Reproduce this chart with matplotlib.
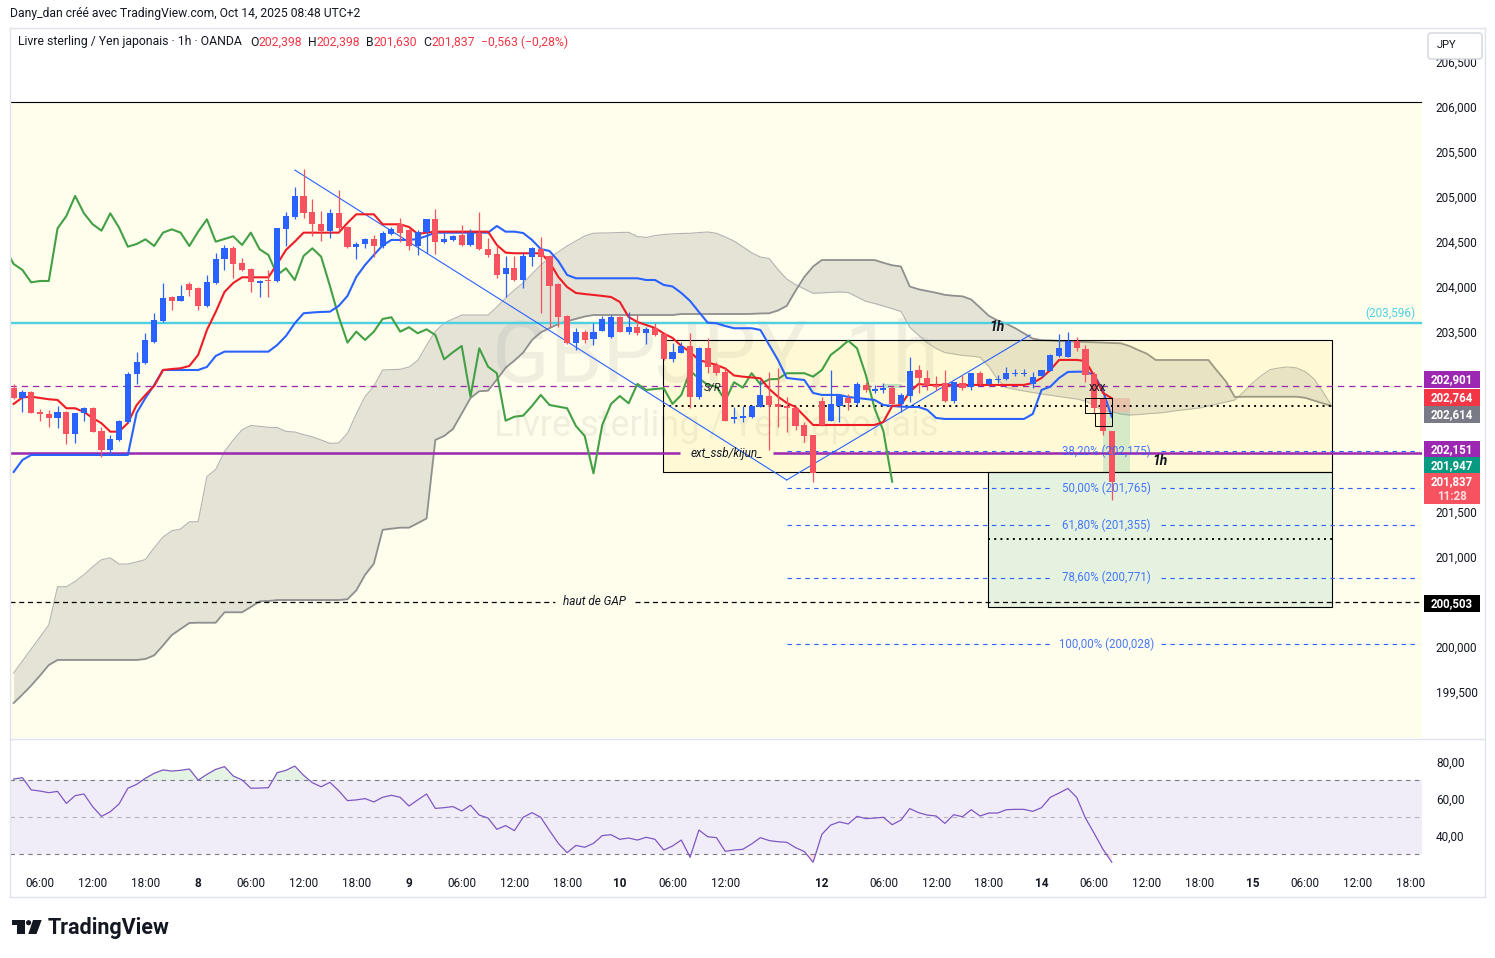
import numpy as np
import matplotlib
matplotlib.use("Agg")
import matplotlib.pyplot as plt
from matplotlib.patches import Rectangle, Circle, Polygon, FancyBboxPatch
from matplotlib.lines import Line2D
from matplotlib.ticker import FuncFormatter
from matplotlib.transforms import IdentityTransform

plt.rcParams['font.family'] = ['Roboto', 'DejaVu Sans']

W, H = 1495, 958

# ---------------- données ----------------
# barre 0 = 7 oct 06:00, une barre = 1h (week-end sauté)
first_bar = -3

opens = [202.875, 202.771, 202.831, 202.612, 202.589, 202.548, 202.612, 202.367, 202.597, 202.656,
         202.397, 202.189, 202.301, 202.504, 203.030, 203.159, 203.393, 203.623, 203.889, 203.848,
         204.034, 203.989, 203.789, 204.048, 204.308, 204.430, 204.264, 204.200, 204.048, 204.078,
         204.070, 204.645, 204.782, 205.012, 204.830, 204.701, 204.626, 204.819, 204.671, 204.448,
         204.475, 204.530, 204.456, 204.589, 204.697, 204.634, 204.456, 204.615, 204.752, 204.504,
         204.523, 204.578, 204.467, 204.604, 204.419, 204.364, 204.141, 204.208, 204.078, 204.337,
         204.423, 204.345, 204.034, 203.678, 203.375, 203.504, 203.423, 203.515, 203.442, 203.664,
         203.504, 203.553, 203.486, 203.541, 203.475, 203.201, 203.271, 203.345, 202.782, 203.319,
         203.134, 203.059, 202.530, 202.548, 202.559, 202.671, 202.789, 202.701, 202.678, 202.660,
         202.467, 202.356, 202.734, 202.515, 202.678, 202.771, 202.708, 202.912, 202.848, 202.856,
         202.875, 202.701, 202.789, 203.078, 202.986, 202.912, 202.937, 202.737, 202.937, 202.893,
         203.042, 202.919, 202.967, 202.975, 203.034, 203.034, 202.923, 203.015, 203.071, 203.234,
         203.226, 203.404, 203.308, 203.034, 202.756, 202.398]
highs = [202.923, 202.856, 202.845, 202.642, 202.634, 202.682, 202.623, 202.601, 202.671, 202.667,
         202.448, 202.356, 202.523, 203.059, 203.275, 203.489, 203.708, 204.042, 203.900, 204.023,
         204.056, 204.000, 204.134, 204.381, 204.467, 204.456, 204.319, 204.212, 204.078, 204.189,
         204.656, 204.830, 205.108, 205.308, 204.975, 204.845, 204.867, 205.078, 204.678, 204.504,
         204.548, 204.578, 204.626, 204.671, 204.763, 204.645, 204.634, 204.752, 204.863, 204.604,
         204.578, 204.689, 204.641, 204.830, 204.541, 204.456, 204.345, 204.345, 204.375, 204.448,
         204.553, 204.356, 204.045, 203.689, 203.541, 203.523, 203.597, 203.678, 203.689, 203.678,
         203.726, 203.689, 203.560, 203.597, 203.489, 203.375, 203.393, 203.486, 203.337, 203.430,
         203.171, 203.097, 202.671, 202.678, 202.689, 202.967, 203.059, 203.097, 202.782, 202.667,
         202.504, 202.356, 202.782, 203.078, 202.801, 202.812, 202.948, 202.948, 202.912, 202.930,
         202.901, 202.819, 203.226, 203.134, 203.078, 203.012, 203.078, 202.948, 203.023, 203.048,
         203.071, 202.986, 203.023, 203.108, 203.086, 203.086, 203.059, 203.078, 203.253, 203.478,
         203.500, 203.449, 203.356, 203.059, 202.782, 202.398]
lows = [202.760, 202.615, 202.601, 202.515, 202.448, 202.437, 202.260, 202.267, 202.515, 202.389,
        202.115, 202.134, 202.289, 202.489, 202.919, 203.145, 203.378, 203.612, 203.745, 203.840,
        203.904, 203.745, 203.775, 204.034, 204.189, 204.097, 204.178, 203.948, 203.892, 203.892,
        204.056, 204.456, 204.756, 204.771, 204.570, 204.515, 204.541, 204.626, 204.439, 204.308,
        204.430, 204.337, 204.430, 204.578, 204.504, 204.412, 204.356, 204.375, 204.367, 204.489,
        204.512, 204.456, 204.456, 204.412, 204.337, 204.097, 203.892, 204.067, 203.986, 204.234,
        203.715, 203.560, 203.560, 203.367, 203.300, 203.375, 203.356, 203.512, 203.434, 203.500,
        203.478, 203.467, 203.364, 203.456, 203.189, 203.171, 203.267, 202.653, 202.753, 203.042,
        203.023, 202.512, 202.486, 202.504, 202.541, 202.667, 202.189, 202.448, 202.393, 202.412,
        202.282, 201.837, 202.456, 202.512, 202.504, 202.634, 202.689, 202.834, 202.819, 202.819,
        202.689, 202.615, 202.726, 202.819, 202.856, 202.856, 202.726, 202.708, 202.856, 202.856,
        202.912, 202.912, 202.930, 202.967, 203.012, 203.012, 202.875, 203.004, 203.067, 203.226,
        203.223, 203.293, 202.948, 202.597, 202.356, 201.630]
closes = [202.771, 202.831, 202.604, 202.586, 202.548, 202.608, 202.367, 202.597, 202.656, 202.393,
          202.189, 202.308, 202.512, 203.030, 203.167, 203.412, 203.634, 203.878, 203.848, 203.900,
          203.971, 203.789, 204.052, 204.312, 204.430, 204.256, 204.189, 204.052, 204.067, 204.067,
          204.652, 204.789, 205.012, 204.819, 204.697, 204.626, 204.819, 204.660, 204.448, 204.478,
          204.530, 204.456, 204.604, 204.641, 204.604, 204.456, 204.615, 204.752, 204.504, 204.534,
          204.564, 204.467, 204.604, 204.419, 204.356, 204.134, 204.208, 204.078, 204.345, 204.430,
          204.337, 204.012, 203.670, 203.382, 203.504, 203.412, 203.504, 203.645, 203.664, 203.504,
          203.553, 203.486, 203.530, 203.467, 203.197, 203.275, 203.345, 202.782, 203.319, 203.115,
          203.042, 202.515, 202.559, 202.571, 202.678, 202.801, 202.689, 202.671, 202.653, 202.456,
          202.345, 201.930, 202.467, 202.701, 202.789, 202.708, 202.923, 202.856, 202.867, 202.875,
          202.701, 202.801, 203.067, 202.986, 202.912, 202.893, 202.737, 202.942, 202.882, 203.042,
          202.919, 202.975, 202.978, 203.042, 203.042, 203.042, 203.004, 203.078, 203.245, 203.319,
          203.404, 203.319, 203.023, 202.653, 202.400, 201.837]

tenkan = [202.701, 202.773, 202.782, 202.767, 202.753, 202.745, 202.653, 202.653, 202.612, 202.545,
          202.486, 202.393, 202.393, 202.489, 202.689, 202.801, 202.901, 203.078, 203.089, 203.097,
          203.123, 203.245, 203.523, 203.723, 203.945, 204.045, 204.108, 204.108, 204.108, 204.108,
          204.256, 204.412, 204.504, 204.604, 204.604, 204.604, 204.604, 204.604, 204.712, 204.808,
          204.808, 204.808, 204.697, 204.697, 204.697, 204.667, 204.589, 204.604, 204.615, 204.615,
          204.615, 204.615, 204.615, 204.615, 204.615, 204.467, 204.382, 204.375, 204.375, 204.375,
          204.375, 204.278, 204.112, 204.000, 203.934, 203.922, 203.912, 203.901, 203.889, 203.834,
          203.667, 203.612, 203.578, 203.545, 203.484, 203.434, 203.345, 203.278, 203.189, 203.162,
          203.134, 203.095, 203.017, 203.004, 202.995, 202.986, 202.867, 202.782, 202.712, 202.667,
          202.567, 202.467, 202.467, 202.467, 202.467, 202.467, 202.467, 202.467, 202.467, 202.501,
          202.678, 202.689, 202.834, 202.923, 202.912, 202.912, 202.912, 202.912, 202.912, 202.912,
          202.912, 202.912, 202.912, 202.912, 202.912, 202.912, 202.934, 202.989, 203.078, 203.190,
          203.190, 203.190, 203.178, 203.012, 202.823, 202.764]
kijun = [201.945, 202.078, 202.134, 202.134, 202.134, 202.134, 202.134, 202.134, 202.134, 202.134,
         202.134, 202.134, 202.134, 202.134, 202.601, 202.767, 202.912, 203.078, 203.078, 203.078,
         203.078, 203.078, 203.112, 203.234, 203.282, 203.282, 203.282, 203.282, 203.282, 203.282,
         203.356, 203.456, 203.597, 203.708, 203.717, 203.723, 203.726, 203.790, 203.901, 204.112,
         204.245, 204.356, 204.462, 204.523, 204.523, 204.523, 204.534, 204.567, 204.604, 204.604,
         204.604, 204.604, 204.604, 204.604, 204.604, 204.678, 204.615, 204.615, 204.600, 204.523,
         204.422, 204.400, 204.289, 204.134, 204.097, 204.097, 204.097, 204.097, 204.097, 204.097,
         204.097, 204.097, 204.078, 204.078, 204.023, 204.006, 203.934, 203.845, 203.723, 203.604,
         203.597, 203.567, 203.542, 203.542, 203.542, 203.523, 203.356, 203.189, 202.989, 202.978,
         202.967, 202.823, 202.801, 202.801, 202.801, 202.778, 202.767, 202.756, 202.745, 202.689,
         202.678, 202.671, 202.667, 202.667, 202.634, 202.545, 202.534, 202.534, 202.534, 202.534,
         202.534, 202.534, 202.534, 202.534, 202.534, 202.534, 202.589, 202.856, 202.893, 202.989,
         203.056, 203.059, 203.059, 203.023, 202.845, 202.556]
# nuage, déjà décalé de 25 barres vers la droite (barres -3 .. 147)
senkou_a = [199.711, 199.845, 199.978, 200.115, 200.245, 200.670, 200.670, 200.729, 200.803, 200.892,
            200.970, 200.991, 200.922, 200.922, 200.945, 200.972, 201.103, 201.222, 201.292, 201.311,
            201.392, 201.392, 201.895, 201.972, 202.172, 202.300, 202.413, 202.462, 202.452, 202.441,
            202.439, 202.396, 202.389, 202.360, 202.335, 202.300, 202.263, 202.267, 202.375, 202.589,
            202.783, 202.898, 203.078, 203.082, 203.086, 203.111, 203.185, 203.352, 203.507, 203.600,
            203.645, 203.689, 203.689, 203.689, 203.689, 203.778, 203.878, 203.967, 204.045, 204.145,
            204.245, 204.322, 204.389, 204.456, 204.511, 204.567, 204.598, 204.600, 204.602, 204.606,
            204.608, 204.561, 204.550, 204.572, 204.583, 204.591, 204.595, 204.597, 204.605, 204.611,
            204.597, 204.556, 204.511, 204.447, 204.380, 204.333, 204.317, 204.195, 204.089, 204.026,
            203.978, 203.930, 203.935, 203.939, 203.945, 203.938, 203.889, 203.841, 203.817, 203.789,
            203.759, 203.729, 203.553, 203.465, 203.378, 203.317, 203.272, 203.256, 203.240, 203.233,
            203.219, 203.117, 202.972, 202.882, 202.862, 202.845, 202.829, 202.811, 202.798, 202.783,
            202.769, 202.756, 202.733, 202.683, 202.628, 202.614, 202.589, 202.578, 202.583, 202.592,
            202.598, 202.607, 202.622, 202.633, 202.645, 202.656, 202.678, 202.700, 202.722, 202.745,
            202.833, 202.933, 203.013, 203.082, 203.100, 203.112, 203.102, 203.061, 202.981, 202.841,
            202.683]
senkou_b = [199.378, 199.472, 199.572, 199.683, 199.800, 199.856, 199.856, 199.856, 199.856, 199.856,
            199.856, 199.856, 199.856, 199.856, 199.856, 199.867, 199.908, 200.017, 200.133, 200.200,
            200.267, 200.270, 200.270, 200.270, 200.386, 200.386, 200.386, 200.445, 200.508, 200.511,
            200.522, 200.522, 200.522, 200.522, 200.522, 200.522, 200.522, 200.522, 200.531, 200.629,
            200.802, 200.926, 201.302, 201.315, 201.326, 201.326, 201.376, 201.428, 202.301, 202.345,
            202.422, 202.593, 202.767, 202.842, 202.848, 202.972, 203.102, 203.183, 203.271, 203.411,
            203.496, 203.543, 203.590, 203.620, 203.646, 203.672, 203.689, 203.689, 203.689, 203.689,
            203.689, 203.689, 203.689, 203.689, 203.689, 203.689, 203.700, 203.700, 203.700, 203.700,
            203.700, 203.700, 203.700, 203.700, 203.702, 203.706, 203.708, 203.739, 203.791, 203.958,
            204.112, 204.228, 204.300, 204.300, 204.300, 204.300, 204.300, 204.300, 204.300, 204.269,
            204.242, 204.228, 204.006, 203.975, 203.956, 203.936, 203.913, 203.903, 203.897, 203.861,
            203.772, 203.680, 203.628, 203.592, 203.543, 203.485, 203.427, 203.409, 203.406, 203.400,
            203.397, 203.393, 203.389, 203.386, 203.382, 203.378, 203.375, 203.345, 203.300, 203.259,
            203.189, 203.189, 203.189, 203.189, 203.189, 203.189, 203.189, 203.067, 202.950, 202.778,
            202.781, 202.781, 202.781, 202.781, 202.781, 202.781, 202.781, 202.769, 202.739, 202.709,
            202.678]
chikou_shift = 25

rsi = [70.7, 71.4, 64.8, 64.2, 63.3, 64.0, 57.5, 61.7, 62.6, 55.7,
       50.5, 53.0, 57.2, 65.7, 67.8, 71.1, 73.8, 75.6, 75.0, 75.4,
       76.1, 70.1, 73.2, 75.9, 77.4, 72.3, 70.2, 65.7, 65.8, 66.0,
       74.1, 75.4, 77.7, 72.7, 68.7, 66.5, 68.9, 64.4, 59.0, 59.4,
       60.1, 58.3, 60.8, 61.9, 60.8, 56.1, 59.4, 62.6, 54.8, 55.2,
       55.8, 53.4, 56.5, 51.2, 49.6, 43.5, 45.5, 42.8, 50.0, 52.5,
       50.0, 42.8, 35.9, 30.9, 34.8, 33.8, 35.9, 40.1, 40.6, 38.1,
       38.8, 37.7, 39.2, 38.1, 32.3, 34.5, 37.7, 28.4, 43.1, 39.5,
       39.0, 31.6, 32.3, 32.7, 35.6, 39.0, 37.4, 36.8, 36.5, 33.6,
       31.5, 25.7, 40.8, 45.8, 47.5, 46.4, 50.5, 49.3, 49.6, 50.0,
       46.0, 48.5, 54.7, 52.5, 51.2, 50.7, 46.7, 51.4, 50.3, 54.1,
       50.7, 52.3, 52.3, 54.1, 54.3, 54.3, 53.2, 55.2, 60.8, 63.1,
       65.6, 60.8, 49.6, 41.3, 32.7, 25.7]

time_ticks = [0, 6, 12, 18, 24, 30, 36, 42, 48, 54, 60, 66, 72, 78, 89,
              96, 102, 108, 114, 120, 126, 132, 138, 144, 150, 156]
time_labels = ['06:00', '12:00', '18:00', '8', '06:00', '12:00', '18:00', '9', '06:00', '12:00',
               '18:00', '10', '06:00', '12:00', '12', '06:00', '12:00', '18:00', '14', '06:00',
               '12:00', '18:00', '15', '06:00', '12:00', '18:00']
price_ticks = [199.5, 200.0, 200.5, 201.0, 201.5, 202.0, 202.5, 203.0, 203.5,
               204.0, 204.5, 205.0, 205.5, 206.0, 206.5]
rsi_ticks = [40, 60, 80]

# dessins de l'utilisateur
level_top = 206.056
level_cyan = 203.596
level_purple_dash = 202.901
level_purple = 202.151
level_gap = 200.503
fib_pct = ['38,20%', '50,00%', '61,80%', '78,60%', '100,00%']
fib_levels = [202.175, 201.765, 201.355, 200.771, 200.028]
fib_from = 85.0
trend_down = ([29.0, 85.0], [205.300, 201.856])
trend_up = ([85.0, 112.7], [201.856, 203.467])
box_range = (70.9, 147.1, 201.947, 203.411)
box_target = (107.9, 147.1, 200.45, 201.947)
dotted = [(70.9, 147.1, 202.678), (107.9, 147.1, 201.20)]
pos_entry, pos_stop, pos_target = 202.614, 202.764, 201.947
pos_bars = (121.0, 124.1)
tags = [202.901, 202.764, 202.614, 202.151, 201.947, 201.837, 200.503]
countdown = '11:28'

# ---------------- figure ----------------
UP, DOWN = '#2962FF', '#F7525F'
TXT = '#131722'
BG = '#FFFDEB'
fig = plt.figure(figsize=(W / 100, H / 100), dpi=100)
fig.patch.set_facecolor('white')


def fx(p):
    return p / W


def fy(p):
    return 1 - p / H


def fmt3(v):
    return f"{v:.3f}".replace('.', ',')


def hline_parts(axis, y, starts, ends, **kw):
    # une ligne horizontale coupée en morceaux (pour laisser la place au texte)
    for s, e in zip(starts, ends):
        axis.hlines(y, s, e, **kw)


ax = fig.add_axes([fx(10), fy(738), fx(1412), (738 - 28) / H])
ax_rsi = fig.add_axes([fx(10), fy(870), fx(1412), (870 - 740) / H])
xl, xr = -3.415, 157.31
for a in (ax, ax_rsi):
    a.set_xlim(xl, xr)
    for s in a.spines.values():
        s.set_visible(False)
ax.set_ylim(198.989, 206.878)
ax_rsi.set_ylim(21.51, 91.78)
ax.set_facecolor('white')

bars = np.arange(first_bar, first_bar + len(closes))
o, hi, lo, c = map(np.array, (opens, highs, lows, closes))
cloud_x = np.arange(first_bar, first_bar + len(senkou_a))

# fond jaune + bord haut
ax.axhspan(198.0, level_top, facecolor=BG, edgecolor='none', zorder=0)
ax.axhline(level_top, color='black', lw=0.8, zorder=0.6)

# filigrane
ax.text(0.5, 0.535, 'GBPJPY, 1h', transform=ax.transAxes, ha='center', va='center',
        fontsize=61, color='#787B86', alpha=0.11, zorder=0.5)
ax.text(0.5, 0.44, 'Livre sterling / Yen japonais', transform=ax.transAxes, ha='center',
        va='center', fontsize=26, color='#787B86', alpha=0.11, zorder=0.5)

# nuage ichimoku
ax.fill_between(cloud_x, senkou_a, senkou_b, color='#787B86', alpha=0.2, lw=0, zorder=1)
ax.plot(cloud_x, senkou_a, color='#B4B4B4', lw=0.8, zorder=1.1)
ax.plot(cloud_x, senkou_b, color='#8F8F8F', lw=1.3, zorder=1.1)

# rectangles
x0, x1, y0, y1 = box_range
ax.add_patch(Rectangle((x0, y0), x1 - x0, y1 - y0, facecolor=(1, 0.92, 0.23, 0.12),
                       edgecolor='black', lw=0.8, zorder=1.5))
x0, x1, y0, y1 = box_target
ax.add_patch(Rectangle((x0, y0), x1 - x0, y1 - y0, facecolor=(0.03, 0.6, 0.5, 0.1),
                       edgecolor='black', lw=0.8, zorder=1.5))
ax.add_patch(Rectangle((pos_bars[0], pos_entry), pos_bars[1] - pos_bars[0], pos_stop - pos_entry,
                       facecolor=(0.95, 0.21, 0.27, 0.18), edgecolor='none', zorder=1.6))
ax.add_patch(Rectangle((pos_bars[0], pos_target), pos_bars[1] - pos_bars[0], pos_entry - pos_target,
                       facecolor=(0.03, 0.6, 0.5, 0.16), edgecolor='none', zorder=1.6))
ax.add_patch(Rectangle((96.0, 202.878), 2.1, 0.045, facecolor=(0.03, 0.6, 0.5, 0.25),
                       edgecolor='none', zorder=1.6))
ax.add_patch(Rectangle((118.95, 202.60), 3.05, 0.167, facecolor='none', edgecolor='black',
                       lw=0.7, zorder=5))
ax.add_patch(Rectangle((120.1, 202.456), 1.9, 0.144, facecolor='none', edgecolor='black',
                       lw=0.7, zorder=5))
for a0, a1, lvl in dotted:
    ax.hlines(lvl, a0, a1, colors='black', lw=1.4, linestyles=(0, (1, 2.2)), zorder=2)

# niveaux horizontaux
ax.axhline(level_cyan, color='#4DD0E1', lw=1.7, zorder=2)
ax.axhline(level_purple_dash, color='#9C27B0', lw=0.9, ls=(0, (5, 4)), zorder=2)
hline_parts(ax, level_purple, [xl, 83.4], [72.9, xr], colors='#9C27B0', lw=1.8, zorder=2)
hline_parts(ax, level_gap, [xl, 67.7], [58.6, xr], colors='black', lw=0.9,
            linestyles=(0, (4, 3)), zorder=2)
ax.text(78.15, level_purple, 'ext_ssb/kijun_', ha='center', va='center', fontsize=8.5,
        style='italic', color=TXT, zorder=6)
ax.text(63.15, level_gap, 'haut de GAP', ha='center', va='center', fontsize=8.5,
        style='italic', color=TXT, zorder=6)
ax.text(156.6, level_cyan + 0.115, '(' + fmt3(level_cyan) + ')', ha='right', va='center',
        fontsize=8.5, color='#4DD0E1', zorder=6)

# retracement de Fibonacci
for pct, lvl in zip(fib_pct, fib_levels):
    hline_parts(ax, lvl, [fib_from, 127.6], [115.3, 157.0], colors='#2962FF', lw=0.8,
                linestyles=(0, (4, 4)), zorder=2)
    ax.text(121.4, lvl, f"{pct} ({fmt3(lvl)})", ha='center', va='center', fontsize=8.3,
            color='#2962FF', alpha=0.85, zorder=6)

# lignes de tendance
ax.plot(*trend_down, color='#2962FF', lw=0.8, zorder=2.5)
ax.plot(*trend_up, color='#2962FF', lw=0.8, zorder=2.5)

# ichimoku
ax.plot(bars - chikou_shift, c, color='#43A047', lw=1.5, zorder=3)
ax.plot(bars, kijun, color='#2962FF', lw=1.5, zorder=3)
ax.plot(bars, tenkan, color='#EE1C25', lw=1.5, zorder=3.1)

# bougies
col = np.where(c >= o, UP, DOWN)
ax.vlines(bars, lo, hi, colors=col, lw=0.9, zorder=4)
ax.bar(bars, np.maximum(np.abs(c - o), 0.012), bottom=np.minimum(o, c), width=0.7,
       color=col, lw=0, zorder=4.1)

# annotations
ax.text(108.97, 203.556, '1h', ha='center', va='center', fontsize=10, fontweight='bold',
        style='italic', color=TXT, zorder=6)
ax.text(127.5, 202.067, '1h', ha='center', va='center', fontsize=10, fontweight='bold',
        style='italic', color=TXT, zorder=6)
ax.text(76.6, 202.889, 'S/R', ha='center', va='center', fontsize=8, style='italic',
        color=TXT, zorder=3.5)
ax.text(120.4, 202.878, 'xxx', ha='center', va='center', fontsize=8.5, color=TXT, zorder=6)

# axe des prix : les graduations cachées par une étiquette ne sont pas écrites
ax.set_xticks([])
ax.yaxis.tick_right()
ax.set_yticks(price_ticks)
tag_px = [ax.transData.transform((0, t))[1] for t in tags]


def price_label(v, pos):
    yv = ax.transData.transform((0, v))[1]
    if min(abs(yv - t) for t in tag_px) < 11:
        return ''
    return fmt3(v)


ax.yaxis.set_major_formatter(FuncFormatter(price_label))
ax.tick_params(axis='y', length=0, pad=10, labelsize=8.5, labelcolor=TXT)

# RSI
rx = np.arange(first_bar, first_bar + len(rsi))
rv = np.array(rsi)
ax_rsi.axhspan(30, 70, color='#7E57C2', alpha=0.1, lw=0, zorder=0)
ax_rsi.axhline(70, color='#787B86', lw=0.8, ls=(0, (4, 4)), zorder=1)
ax_rsi.axhline(50, color='#787B86', lw=0.8, ls=(0, (4, 4)), alpha=0.5, zorder=1)
ax_rsi.axhline(30, color='#787B86', lw=0.8, ls=(0, (4, 4)), zorder=1)
ax_rsi.fill_between(rx, rv, 70, where=rv > 70, interpolate=True, color='#4CAF50',
                    alpha=0.15, lw=0, zorder=1.5)
ax_rsi.fill_between(rx, rv, 30, where=rv < 30, interpolate=True, color='#F23645',
                    alpha=0.15, lw=0, zorder=1.5)
ax_rsi.plot(rx, rv, color='#7E57C2', lw=0.9, zorder=2)
ax_rsi.yaxis.tick_right()
ax_rsi.set_yticks(rsi_ticks)
ax_rsi.yaxis.set_major_formatter(FuncFormatter(lambda v, p: f"{v:.2f}".replace('.', ',')))
ax_rsi.tick_params(axis='y', length=0, pad=10, labelsize=8.5, labelcolor=TXT)
ax_rsi.set_xticks(time_ticks)
ax_rsi.set_xticklabels(time_labels)
ax_rsi.tick_params(axis='x', length=0, pad=5, labelsize=8.5, labelcolor=TXT)
for t in ax_rsi.get_xticklabels():
    if ':' not in t.get_text():
        t.set_fontweight('bold')

# cadre
ID = IdentityTransform()
for (a, b), (cc, d) in [((10, 1485), (28, 28)), ((10, 1485), (897, 897)), ((10, 10), (28, 897)),
                        ((1485, 1485), (28, 897)), ((10, 1485), (739, 739))]:
    fig.add_artist(Line2D([a, b], [H - cc, H - d], transform=ID, color='#E0E3EB', lw=1))

# étiquettes sur l'axe des prix
tag_style = [('#9C27B0', -6), ('#F23645', -1), ('#787B86', 2.5), ('#9C27B0', -4),
             ('#089981', -6), ('#F7525F', 0), ('#000000', 1.5)]
for price, (colr, dy) in zip(tags, tag_style):
    yd = ax.transData.transform((0, price))[1] - dy
    hh = 31 if price == closes[-1] else 17
    fig.add_artist(Rectangle((1424, yd + 8.5 - hh), 56, hh, transform=ID, facecolor=colr,
                             edgecolor='none', zorder=10))
    fig.text(1452, yd, fmt3(price), transform=ID, ha='center', va='center', fontsize=8.3,
             fontweight='bold', color='white', zorder=11)
    if price == closes[-1]:
        fig.text(1452, yd - 15, countdown, transform=ID, ha='center', va='center',
                 fontsize=8.3, fontweight='bold', color='#FFE0E3', zorder=11)

fig.add_artist(FancyBboxPatch((1428, H - 59), 54, 26, boxstyle='round,pad=0,rounding_size=3',
                              transform=ID, facecolor='white', edgecolor='#D1D4DC', lw=1,
                              zorder=10))
fig.text(1437, H - 45, 'JPY', transform=ID, va='center', fontsize=8, color=TXT, zorder=11)

# en-têtes
fig.text(10, H - 14, 'Dany_dan créé avec TradingView.com, Oct 14, 2025 08:48 UTC+2',
         transform=ID, va='center', fontsize=8.7, color=TXT)
chg = closes[-1] - closes[-2]
red = '#F23645'
pieces = [('Livre sterling / Yen japonais · 1h · OANDA', TXT, 8), ('O', TXT, 0),
          (fmt3(opens[-1]), red, 6), ('H', TXT, 0), (fmt3(highs[-1]), red, 6),
          ('B', TXT, 0), (fmt3(lows[-1]), red, 6), ('C', TXT, 0), (fmt3(closes[-1]), red, 6),
          ('\u2212' + fmt3(-chg) + ' (\u2212' + f"{-chg / closes[-2] * 100:.2f}".replace('.', ',')
           + '%)', red, 0)]
rend = fig.canvas.get_renderer()
xp = 18
for s, colr, gap in pieces:
    t = fig.text(xp, H - 42, s, transform=ID, va='center', fontsize=8.8, color=colr)
    xp += t.get_window_extent(rend).width + gap

# logo TradingView
fig.add_artist(Rectangle((11.7, H - 925), 13.3, 5, transform=ID, color='#131722', lw=0))
fig.add_artist(Rectangle((17.3, H - 934), 7.7, 14, transform=ID, color='#131722', lw=0))
fig.add_artist(Circle((28.6, H - 922.7), 2.6, transform=ID, color='#131722', lw=0))
fig.add_artist(Polygon([(33, H - 920), (41.7, H - 920), (36.5, H - 934), (28.3, H - 934)],
                       closed=True, transform=ID, color='#131722', lw=0))
fig.text(48, H - 928, 'TradingView', transform=ID, va='center', fontsize=15.5,
         fontweight='bold', color='#131722')

fig.savefig('out.png', dpi=100, facecolor='white')
